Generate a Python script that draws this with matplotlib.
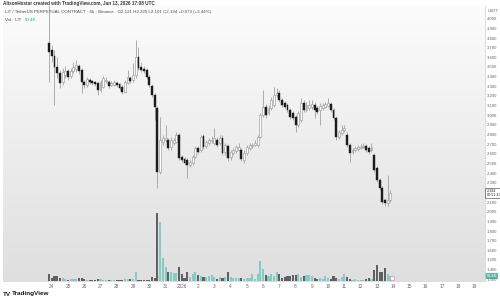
import matplotlib
matplotlib.use("Agg")
import matplotlib.pyplot as plt
import numpy as np
import pandas as pd

plt.rcParams["font.family"] = ["Liberation Sans", "DejaVu Sans"]

# 4h candles, LIT / USDT perpetual
START = "2025-12-23 20:00"

opens = [3.748, 3.676, 3.614, 3.500, 3.437, 3.344, 3.417, 3.458, 3.406, 3.458,
         3.479, 3.510, 3.469, 3.344, 3.313, 3.365, 3.355, 3.344, 3.334, 3.261,
         3.292, 3.355, 3.344, 3.313, 3.313, 3.334, 3.324, 3.292, 3.241, 3.334,
         3.386, 3.365, 3.417, 3.603, 3.500, 3.479, 3.469, 3.396, 3.303, 3.210,
         3.075, 2.412, 2.722, 2.743, 2.743, 2.671, 2.712, 2.722, 2.795, 2.567,
         2.546, 2.536, 2.484, 2.505, 2.567, 2.660, 2.640, 2.785, 2.681, 2.712,
         2.733, 2.712, 2.743, 2.712, 2.764, 2.619, 2.681, 2.567, 2.608, 2.629,
         2.640, 2.640, 2.536, 2.608, 2.660, 2.681, 2.691, 2.691, 2.774, 3.002,
         3.085, 3.023, 3.075, 3.106, 3.210, 3.230, 3.158, 3.127, 3.106, 3.054,
         3.023, 2.981, 2.899, 2.950, 3.127, 3.054, 3.075, 3.085, 3.106, 3.075,
         3.054, 3.075, 3.085, 3.096, 3.116, 3.054, 2.971, 2.774, 2.816, 2.847,
         2.795, 2.691, 2.619, 2.640, 2.650, 2.660, 2.671, 2.681, 2.660, 2.640,
         2.588, 2.453, 2.329, 2.246, 2.121, 2.090, 2.121]

highs = [4.153, 3.728, 3.676, 3.603, 3.469, 3.489, 3.510, 3.479, 3.489, 3.552,
         3.572, 3.531, 3.489, 3.365, 3.396, 3.386, 3.365, 3.355, 3.344, 3.365,
         3.406, 3.396, 3.365, 3.355, 3.365, 3.355, 3.334, 3.313, 3.365, 3.469,
         3.406, 3.541, 3.779, 3.707, 3.552, 3.510, 3.489, 3.417, 3.324, 3.230,
         3.096, 2.981, 2.795, 2.899, 2.764, 2.774, 2.764, 2.826, 2.816, 2.588,
         2.567, 2.557, 2.536, 2.588, 2.681, 2.681, 2.795, 2.805, 2.743, 2.764,
         2.785, 2.868, 2.774, 2.795, 2.795, 2.712, 2.702, 2.640, 2.660, 2.691,
         2.712, 2.660, 2.640, 2.691, 2.712, 2.712, 2.743, 2.795, 3.023, 3.261,
         3.116, 3.106, 3.189, 3.292, 3.282, 3.261, 3.178, 3.147, 3.127, 3.075,
         3.044, 3.002, 3.044, 3.178, 3.158, 3.137, 3.158, 3.158, 3.137, 3.096,
         3.127, 3.127, 3.137, 3.178, 3.137, 3.075, 2.992, 2.847, 2.899, 2.899,
         2.826, 2.712, 2.660, 2.681, 2.691, 2.702, 2.712, 2.702, 2.681, 2.712,
         2.608, 2.474, 2.349, 2.267, 2.142, 2.381, 2.225]

lows = [3.344, 3.552, 3.106, 3.386, 3.282, 3.313, 3.386, 3.365, 3.386, 3.437,
        3.448, 3.427, 3.230, 3.282, 3.292, 3.324, 3.313, 3.303, 3.210, 3.241,
        3.282, 3.334, 3.282, 3.303, 3.303, 3.292, 3.261, 3.220, 3.230, 3.324,
        3.334, 3.344, 3.386, 3.469, 3.448, 3.437, 3.375, 3.292, 3.189, 2.950,
        2.246, 2.391, 2.691, 2.722, 2.640, 2.640, 2.691, 2.712, 2.536, 2.515,
        2.484, 2.349, 2.463, 2.484, 2.557, 2.598, 2.619, 2.650, 2.660, 2.691,
        2.712, 2.691, 2.671, 2.691, 2.588, 2.588, 2.526, 2.536, 2.588, 2.608,
        2.629, 2.526, 2.505, 2.588, 2.640, 2.660, 2.681, 2.671, 2.764, 2.981,
        2.971, 3.002, 3.054, 3.085, 3.189, 3.137, 3.085, 3.064, 3.033, 2.961,
        2.950, 2.826, 2.878, 2.930, 3.033, 3.033, 3.054, 3.064, 2.971, 3.013,
        2.899, 3.054, 3.075, 3.085, 3.033, 2.950, 2.743, 2.754, 2.795, 2.826,
        2.671, 2.515, 2.598, 2.619, 2.629, 2.650, 2.660, 2.619, 2.598, 2.619,
        2.412, 2.308, 2.225, 2.080, 2.059, 2.059, 2.101]

closes = [3.655, 3.614, 3.500, 3.437, 3.334, 3.448, 3.458, 3.396, 3.458, 3.500,
          3.520, 3.458, 3.344, 3.313, 3.375, 3.344, 3.334, 3.324, 3.261, 3.344,
          3.386, 3.365, 3.303, 3.334, 3.344, 3.313, 3.282, 3.241, 3.344, 3.396,
          3.355, 3.417, 3.603, 3.489, 3.469, 3.458, 3.396, 3.313, 3.210, 3.085,
          2.412, 2.743, 2.764, 2.764, 2.660, 2.743, 2.743, 2.795, 2.557, 2.536,
          2.505, 2.484, 2.515, 2.567, 2.660, 2.619, 2.774, 2.671, 2.722, 2.743,
          2.743, 2.764, 2.691, 2.764, 2.608, 2.691, 2.557, 2.619, 2.640, 2.671,
          2.671, 2.546, 2.608, 2.671, 2.691, 2.691, 2.712, 2.774, 3.002, 3.085,
          3.002, 3.075, 3.158, 3.210, 3.230, 3.158, 3.106, 3.085, 3.054, 2.981,
          2.971, 2.899, 3.023, 3.127, 3.054, 3.106, 3.106, 3.116, 3.054, 3.033,
          3.096, 3.106, 3.116, 3.127, 3.054, 2.971, 2.774, 2.826, 2.847, 2.868,
          2.691, 2.608, 2.640, 2.660, 2.671, 2.671, 2.681, 2.640, 2.619, 2.671,
          2.432, 2.329, 2.246, 2.101, 2.090, 2.121, 2.194]

# volume in thousands of LIT
volumes = [67, 27, 53, 50, 33, 33, 20, 10, 20, 20,
           17, 33, 33, 20, 13, 10, 10, 10, 20, 20,
           10, 10, 10, 10, 10, 13, 10, 10, 17, 20,
           20, 20, 93, 10, 10, 10, 10, 10, 40, 33,
           680, 590, 227, 140, 93, 90, 77, 77, 137, 67,
           33, 90, 43, 73, 90, 60, 50, 40, 40, 50,
           60, 40, 23, 43, 33, 40, 93, 40, 33, 30,
           30, 30, 23, 30, 30, 73, 23, 73, 197, 120,
           57, 50, 67, 50, 90, 73, 33, 40, 47, 50,
           63, 57, 67, 40, 50, 57, 63, 50, 33, 23,
           33, 23, 50, 33, 23, 50, 33, 23, 40, 67,
           40, 23, 13, 17, 13, 13, 13, 23, 30, 23,
           113, 157, 90, 90, 133, 73, 50.4]

price_ticks = [1.3, 1.4, 1.5, 1.6, 1.7, 1.8, 1.9, 2.0, 2.1, 2.2, 2.3, 2.4, 2.5, 2.6,
               2.7, 2.8, 2.9, 3.0, 3.1, 3.2, 3.3, 3.4, 3.5, 3.6, 3.7, 3.8, 3.9, 4.0]

UP_VOL = "#84cbc3"
DOWN_VOL = "#606060"
WICK = "#9a9a9a"
DOWN_BODY = "#1c1c1c"
TEXT = "#4a4a4a"

o = np.array(opens)
h = np.array(highs)
l = np.array(lows)
c = np.array(closes)
v = np.array(volumes)
times = pd.date_range(START, periods=len(c), freq="4h")
x = np.arange(len(c))
up = c >= o

W, H = 500, 303
fig = plt.figure(figsize=(W / 100, H / 100), dpi=100)
fig.patch.set_facecolor("white")

pane = [3 / W, (H - 281) / H, (485 - 3) / W, (281 - 6) / H]

# soft vertical gradient behind the pane
bg = fig.add_axes(pane, zorder=-1)
grad = np.linspace(0, 1, 256).reshape(-1, 1)
bg.imshow(grad, cmap=matplotlib.colors.LinearSegmentedColormap.from_list("g", ["#fcfcfc", "#dfdfdf"]),
          aspect="auto", extent=[0, 1, 0, 1])
bg.set_axis_off()

ax = fig.add_axes(pane, zorder=1)
ax.patch.set_visible(False)
vax = fig.add_axes(pane, zorder=0, sharex=ax)
vax.patch.set_visible(False)

# volume overlay
vax.bar(x, v, width=0.78, color=np.where(up, UP_VOL, DOWN_VOL), linewidth=0)
vax.set_ylim(0, 2750)
vax.set_axis_off()

# candles
ax.vlines(x, l, h, color=WICK, linewidth=0.55, zorder=2)
body_bottom = np.minimum(o, c)
body_height = np.maximum(np.abs(c - o), 0.004)
ax.bar(x[up], body_height[up], bottom=body_bottom[up], width=0.7,
       facecolor="white", edgecolor=WICK, linewidth=0.45, zorder=3)
ax.bar(x[~up], body_height[~up], bottom=body_bottom[~up], width=0.7,
       facecolor=DOWN_BODY, edgecolor=DOWN_BODY, linewidth=0.3, zorder=3)

ax.set_xlim(-17.0, 160.9)
ax.set_ylim(1.282, 4.132)

# time axis: daily labels
days = pd.date_range("2025-12-24", "2026-01-19", freq="D")
day_pos = (days - times[0]) / pd.Timedelta("4h")
day_labels = ["2026" if (d.month == 1 and d.day == 1) else str(d.day) for d in days]
ax.set_xticks(day_pos)
ax.set_xticklabels(day_labels)
ax.tick_params(axis="x", length=0, pad=2.2, labelsize=3.4, labelcolor="#666666")

# price axis on the right; the 2.200 label sits under the last-price tag
ax.yaxis.tick_right()
ax.set_yticks(price_ticks)
ax.set_yticklabels(["" if abs(p - 2.2) < 1e-9 else f"{p:.3f}" for p in price_ticks])
ax.tick_params(axis="y", length=0, pad=1.4, labelsize=3.1, labelcolor="#666666")

for side in ["top", "left"]:
    ax.spines[side].set_visible(False)
for side in ["right", "bottom"]:
    ax.spines[side].set_color("#cfcfcf")
    ax.spines[side].set_linewidth(0.5)

ax.text(1.005, 0.982, "USDT", transform=ax.transAxes, fontsize=2.9,
        color="#666666", va="center", ha="left")

# last price label
ax.annotate(f"{closes[-1]:.3f}\n00:51:43", xy=(1.0, closes[-1]),
            xycoords=("axes fraction", "data"), xytext=(1.0, 0), textcoords="offset points",
            fontsize=2.7, color="#222222", va="center", ha="left", linespacing=1.0,
            annotation_clip=False, zorder=6,
            bbox=dict(boxstyle="square,pad=0.25", facecolor="white", edgecolor="#333333", linewidth=0.4))

# last volume label
vax.annotate(f"{volumes[-1]:.1f}K", xy=(1.0, volumes[-1]),
             xycoords=("axes fraction", "data"), xytext=(1.0, 0), textcoords="offset points",
             fontsize=2.8, color="white", va="center", ha="left",
             annotation_clip=False, zorder=6,
             bbox=dict(boxstyle="square,pad=0.3", facecolor="#5cb8ad", edgecolor="none"))

# event marker near the last bar
ax.plot([x[-1] + 0.5], [0.012], transform=ax.get_xaxis_transform(), marker="o",
        markersize=3.2, markerfacecolor="white", markeredgecolor="#e58fb4",
        markeredgewidth=0.6, clip_on=False, zorder=5)

# legend lines inside the pane
ax.text(0.004, 0.985,
        "LIT / TetherUS PERPETUAL CONTRACT · 4h · Binance   "
        f"O{opens[-1]:.3f} H{highs[-1]:.3f} L{lows[-1]:.3f} C{closes[-1]:.3f} "
        f"+{closes[-1] - opens[-1]:.3f} (+{(closes[-1] - opens[-1]) / opens[-1] * 100:.2f}%)",
        transform=ax.transAxes, fontsize=3.2, color=TEXT, va="top", ha="left")
ax.text(0.004, 0.958, "Vol · LIT", transform=ax.transAxes, fontsize=3.2,
        color=TEXT, va="top", ha="left")
ax.text(0.045, 0.958, f"{volumes[-1]:.1f}K", transform=ax.transAxes, fontsize=3.2,
        color="#26a69a", va="top", ha="left")

# snapshot header and footer
fig.text(3 / W, 1 - 1.5 / H, "AlisonHostar created with TradingView.com, Jan 13, 2026 17:08 UTC",
         fontsize=3.3, color="#333333", va="top", ha="left", fontweight="bold")
fig.text(3 / W, 1 - 294 / H, "TV", fontsize=4.5, color="#131722", va="center",
         ha="left", fontweight="bold")
fig.text(12 / W, 1 - 294 / H, "TradingView", fontsize=4.6, color="#131722", va="center",
         ha="left", fontweight="bold")

fig.savefig("out.png", dpi=100)
